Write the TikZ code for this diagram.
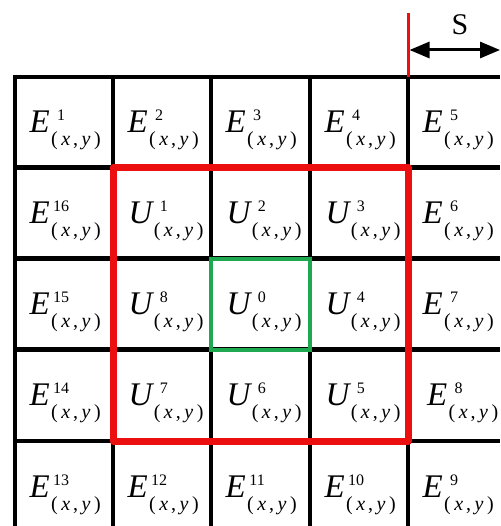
\documentclass[tikz,border=0pt]{standalone}
\usepackage{fontspec}
\setmainfont{Liberation Serif}
\usetikzlibrary{arrows.meta}
\definecolor{myred}{RGB}{235,15,15}
\definecolor{mygreen}{RGB}{30,168,80}
\newcommand{\cellab}[2]{{\fontsize{33}{33}\selectfont\itshape #1}\kern1.5pt\rlap{\raisebox{12pt}{\makebox[20pt]{\fontsize{16}{16}\selectfont #2}}}\raisebox{-13pt}{\fontsize{20}{20}\selectfont(\kern3.5pt\textit{x}\kern3pt,\kern3.5pt\textit{y}\kern3.5pt)}}
\begin{document}
\begin{tikzpicture}[x=1pt,y=-1pt,
  gridline/.style={line width=4.5pt,black},
  lab/.style={anchor=base west,inner sep=0pt,outer sep=0pt},
  bigbox/.style={myred,line width=7pt,line join=round},
  centerbox/.style={mygreen,line width=4pt},
  tick/.style={myred,line width=3pt},
  dimarrow/.style={line width=3pt,{Triangle[length=20pt,width=16pt]}-{Triangle[length=20pt,width=16pt]}}]
\useasboundingbox (0,0) rectangle (500,526);
% grid lines
\foreach \y in {77,167.5,258.5,349.5,441} \draw[gridline] (12.75,\y) -- (500,\y);
\foreach \x in {15,113,211,310,408} \draw[gridline] (\x,74.75) -- (\x,526);
% labels
\foreach \c/\r/\L/\n/\o in {
  0/0/E/1/14.5, 1/0/E/2/14.5, 2/0/E/3/14.5, 3/0/E/4/14.5, 4/0/E/5/14.5,
  0/1/E/16/14.5, 1/1/U/1/15.5, 2/1/U/2/15.5, 3/1/U/3/15.5, 4/1/E/6/14.5,
  0/2/E/15/14.5, 1/2/U/8/15.5, 2/2/U/0/15.5, 3/2/U/4/15.5, 4/2/E/7/14.5,
  0/3/E/14/14.5, 1/3/U/7/15.5, 2/3/U/6/15.5, 3/3/U/5/15.5, 4/3/E/8/19,
  0/4/E/13/14.5, 1/4/E/12/14.5, 2/4/E/11/14.5, 3/4/E/10/14.5, 4/4/E/9/14.5}
{
  \pgfmathsetmacro{\xx}{{15,113,211,310,408}[\c]+\o}
  \pgfmathsetmacro{\yy}{{77,167.5,258.5,349.5,441}[\r]+56}
  \node[lab] (c\c\r) at (\xx,\yy) {\cellab{\L}{\n}};
}
% highlighted boxes
\draw[centerbox] (211,258.5) rectangle (310,349.5);
\draw[bigbox] (113,167.5) rectangle (408,441);
% spacing marker
\draw[tick] (408,13) -- (408,77);
\coordinate (sl) at (409.5,50);
\coordinate (sr) at (500,50);
\draw[dimarrow] (sl) -- (sr);
\node (s) at (460,25) {\fontsize{30}{30}\selectfont S};
\end{tikzpicture}
\end{document}
